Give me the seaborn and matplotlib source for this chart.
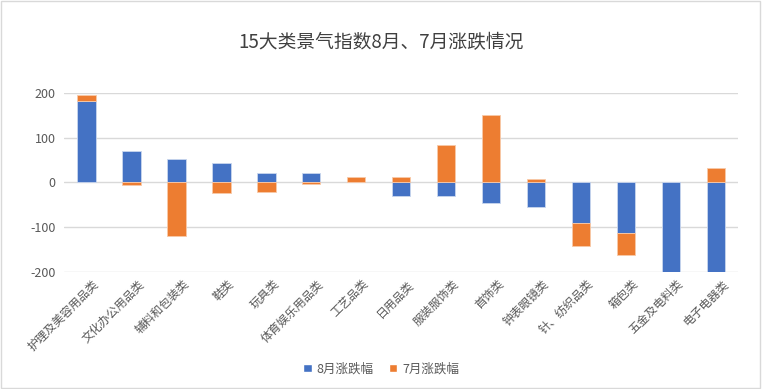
#!/usr/bin/env python3
# 15大类景气指数 8月/7月 涨跌 stacked bars

import matplotlib
matplotlib.use('Agg')
import matplotlib.pyplot as plt
import matplotlib.transforms as mtransforms
from matplotlib.patches import Patch, Rectangle
import numpy as np
import pandas as pd
import seaborn as sns

# Data =========================================================================

categories = ['护理及美容用品类', '文化办公用品类', '辅料和包装类', '鞋类', '玩具类',
              '体育娱乐用品类', '工艺品类', '日用品类', '服装服饰类', '首饰类',
              '钟表眼镜类', '针、纺织品类', '箱包类', '五金及电料类', '电子电器类']
aug_change = [183, 70, 52, 44, 22, 20, 0, -31, -31, -45, -55, -90, -113, -200, -200]
jul_change = [13, -6, -120, -23, -21, -4, 12, 12, 83, 150, 8, -53, -49, 0, 33]

BLUE = '#4472C4'
ORANGE = '#ED7D31'
GREY = '#595959'

# Plot =========================================================================

sns.set_theme(style='white')
plt.rcParams['font.family'] = ['Noto Sans CJK SC', 'DejaVu Sans']
plt.rcParams['axes.unicode_minus'] = False

aug = np.array(aug_change, dtype=float)
jul = np.array(jul_change, dtype=float)
# excel-style stacking: same-sign values stack, opposite signs start at zero
jul_bottom = np.where(np.sign(aug) == np.sign(jul), aug, 0)

df = pd.DataFrame({'cat': categories, 'aug': aug, 'jul': jul, 'bottom': jul_bottom})

fig, ax = plt.subplots(figsize=(7.62, 3.89), dpi=100)
fig.subplots_adjust(left=0.084, right=0.969, top=0.761, bottom=0.301)

sns.barplot(data=df, x='cat', y='aug', order=categories, color=BLUE,
            saturation=1, width=0.41, edgecolor='#C9D6EE', linewidth=0.6, ax=ax)
sns.barplot(data=df, x='cat', y='jul', order=categories, color=ORANGE,
            saturation=1, width=0.41, edgecolor='#F8C9A8', linewidth=0.6,
            bottom=df['bottom'].values, ax=ax)
# zero-height bars should not leave an outline
for bar in ax.patches:
    if bar.get_height() == 0:
        bar.set_linewidth(0)

ax.set_ylim(-200, 200)
ax.set_yticks([-200, -100, 0, 100, 200])
ax.set_xlim(-0.5, len(categories) - 0.5)
ax.yaxis.grid(True, color='#D9D9D9', linewidth=1)
ax.set_axisbelow(True)
sns.despine(ax=ax, left=True, bottom=True)
ax.set_xlabel('')
ax.set_ylabel('')
ax.tick_params(axis='y', labelsize=9, labelcolor=GREY, length=0, pad=6)
ax.tick_params(axis='x', labelsize=8.5, labelcolor=GREY, length=0, pad=4)

offset = mtransforms.ScaledTranslation(6 / 100, 0, fig.dpi_scale_trans)
for lab in ax.get_xticklabels():
    lab.set_rotation(45)
    lab.set_ha('right')
    lab.set_rotation_mode('anchor')
    lab.set_transform(lab.get_transform() + offset)

fig.text(0.5, 0.89, '15大类景气指数8月、7月涨跌情况', ha='center', va='center',
         fontsize=13.5, color='#404040')

handles = [Patch(facecolor=BLUE, label='8月涨跌幅'),
           Patch(facecolor=ORANGE, label='7月涨跌幅')]
fig.legend(handles=handles, loc='center', bbox_to_anchor=(0.5, 0.052), ncol=2,
           frameon=False, fontsize=9, labelcolor=GREY, handlelength=0.7,
           handleheight=0.7, handletextpad=0.4, columnspacing=1.2)

fig.patches.append(Rectangle((0.001, 0.002), 0.997, 0.995, transform=fig.transFigure,
                             fill=False, edgecolor='#D9D9D9', linewidth=1))

fig.savefig('out.png', dpi=100)
